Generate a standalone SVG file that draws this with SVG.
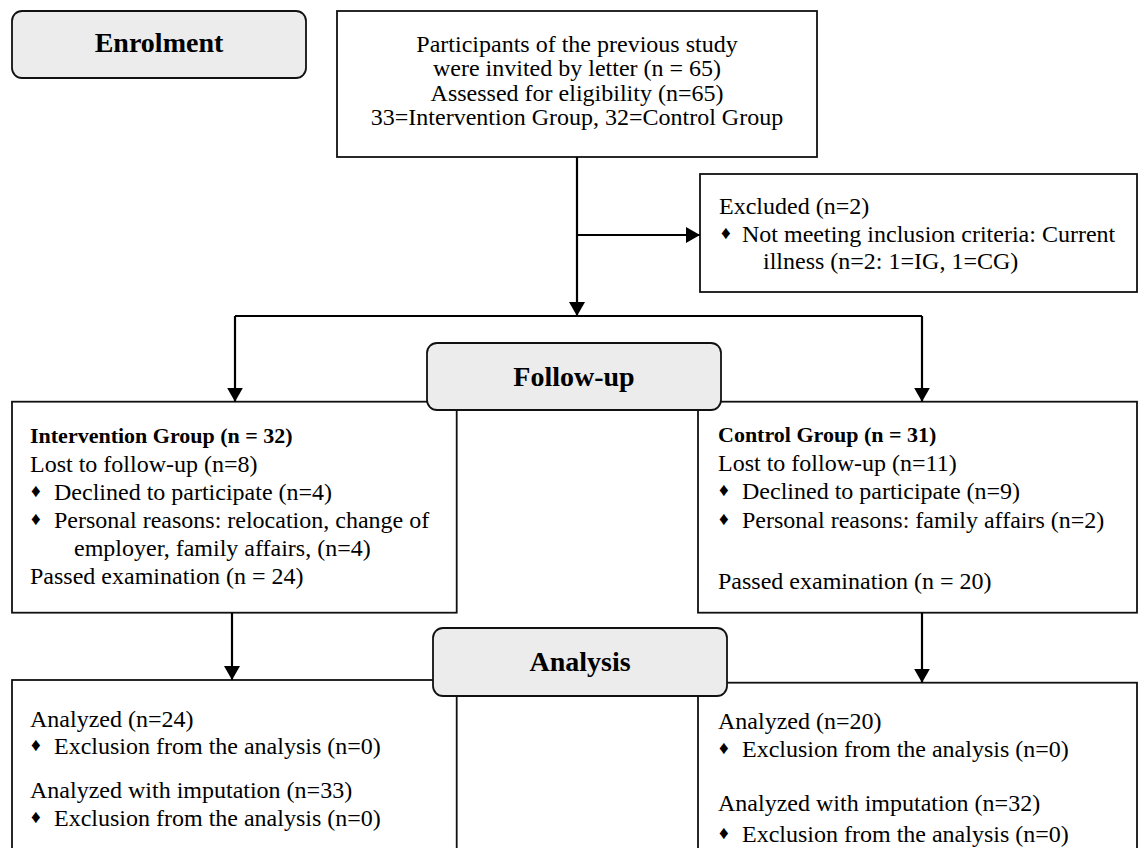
<svg xmlns="http://www.w3.org/2000/svg" width="1139" height="848" viewBox="0 0 1139 848">
<style>
.box{fill:#fff;stroke:#111;stroke-width:1.8}
.stage{fill:#ececec;stroke:#111;stroke-width:1.8}
.t{font-family:"Liberation Serif","Times New Roman",serif;font-size:24px;fill:#000}
.b{font-weight:bold;font-size:22px}
.h{font-family:"Liberation Serif","Times New Roman",serif;font-size:28px;font-weight:bold;fill:#000;text-anchor:middle}
.c{text-anchor:middle}
.bul{font-family:"Liberation Serif","DejaVu Sans",serif;font-size:19px;fill:#000}
.ln{fill:none;stroke:#000;stroke-width:2.2}
</style>
<defs>
<marker id="ah" viewBox="0 0 14 16" refX="14" refY="8" markerWidth="14" markerHeight="16" markerUnits="userSpaceOnUse" orient="auto">
<path d="M0,0 L14,8 L0,16 Z" fill="#000"/>
</marker>
</defs>

<g id="intervention">
<rect class="box" x="12" y="401.7" width="444.7" height="211"/>
<text class="t b" x="30" y="443">Intervention Group (n = 32)</text>
<text class="t" x="30" y="471.5">Lost to follow-up (n=8)</text>
<text class="bul" x="31" y="497">♦</text>
<text class="t" x="54" y="500">Declined to participate (n=4)</text>
<text class="bul" x="31" y="525">♦</text>
<text class="t" x="54" y="528">Personal reasons: relocation, change of</text>
<text class="t" x="74" y="556">employer, family affairs, (n=4)</text>
<text class="t" x="30" y="584">Passed examination (n = 24)</text>
</g>

<g id="control">
<rect class="box" x="698" y="401.7" width="439" height="211"/>
<text class="t b" x="718" y="442">Control Group (n = 31)</text>
<text class="t" x="718" y="471">Lost to follow-up (n=11)</text>
<text class="bul" x="719" y="496">♦</text>
<text class="t" x="742" y="499">Declined to participate (n=9)</text>
<text class="bul" x="719" y="525">♦</text>
<text class="t" x="742" y="528">Personal reasons: family affairs (n=2)</text>
<text class="t" x="718" y="589">Passed examination (n = 20)</text>
</g>

<g id="analysis-ig">
<rect class="box" x="12" y="680" width="444.7" height="180"/>
<text class="t" x="30" y="727">Analyzed (n=24)</text>
<text class="bul" x="31" y="751">♦</text>
<text class="t" x="54" y="754">Exclusion from the analysis (n=0)</text>
<text class="t" x="30" y="798">Analyzed with imputation (n=33)</text>
<text class="bul" x="31" y="823">♦</text>
<text class="t" x="54" y="826">Exclusion from the analysis (n=0)</text>
</g>

<g id="analysis-cg">
<rect class="box" x="698" y="682.7" width="439" height="180"/>
<text class="t" x="718" y="729">Analyzed (n=20)</text>
<text class="bul" x="719" y="754">♦</text>
<text class="t" x="742" y="757">Exclusion from the analysis (n=0)</text>
<text class="t" x="718" y="811">Analyzed with imputation (n=32)</text>
<text class="bul" x="719" y="839">♦</text>
<text class="t" x="742" y="842">Exclusion from the analysis (n=0)</text>
</g>

<g id="enrolment">
<rect class="stage" x="12" y="11" width="294" height="67" rx="10"/>
<text class="h" x="159" y="52">Enrolment</text>
</g>

<g id="invited">
<rect class="box" x="337" y="11" width="480" height="146"/>
<text class="t c" x="577" y="52">Participants of the previous study</text>
<text class="t c" x="577" y="76.3">were invited by letter (n = 65)</text>
<text class="t c" x="577" y="100.6">Assessed for eligibility (n=65)</text>
<text class="t c" x="577" y="125">33=Intervention Group, 32=Control Group</text>
</g>

<g id="excluded">
<rect class="box" x="700" y="174" width="437" height="118"/>
<text class="t" x="719" y="214">Excluded (n=2)</text>
<text class="bul" x="721" y="239">♦</text>
<text class="t" x="742" y="241.7">Not meeting inclusion criteria: Current</text>
<text class="t" x="763" y="269">illness (n=2: 1=IG, 1=CG)</text>
</g>

<g id="connectors">
<path class="ln" d="M577,157 V316" marker-end="url(#ah)"/>
<path class="ln" d="M577,235 H700" marker-end="url(#ah)"/>
<path class="ln" d="M235,316 H922"/>
<path class="ln" d="M235,316 V401.7" marker-end="url(#ah)"/>
<path class="ln" d="M922,316 V401.7" marker-end="url(#ah)"/>
<path class="ln" d="M232,612.7 V680" marker-end="url(#ah)"/>
<path class="ln" d="M922,612.7 V682.7" marker-end="url(#ah)"/>
</g>

<g id="follow-up">
<rect class="stage" x="427" y="343" width="294" height="67" rx="10"/>
<text class="h" x="574" y="386">Follow-up</text>
</g>

<g id="analysis">
<rect class="stage" x="433" y="628" width="294" height="68" rx="10"/>
<text class="h" x="580" y="671">Analysis</text>
</g>
</svg>
